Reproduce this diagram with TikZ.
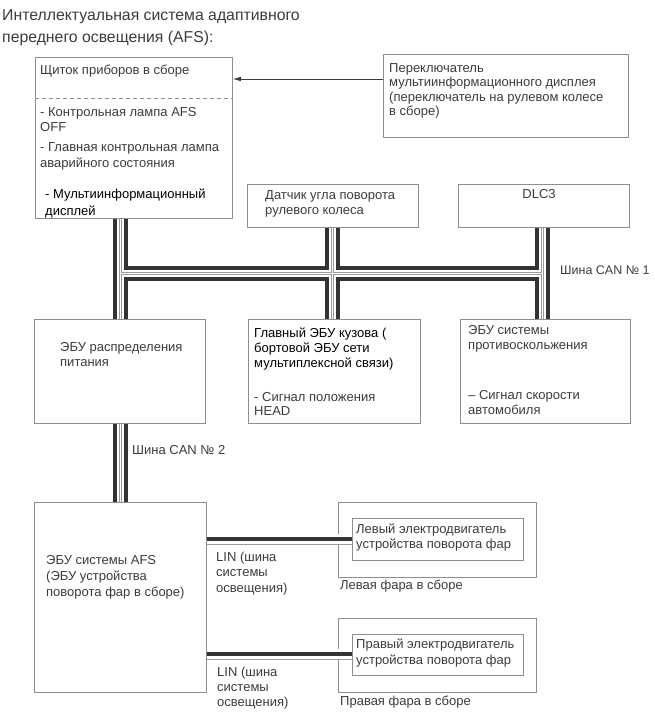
\documentclass[tikz,border=0pt]{standalone}
\usepackage{fontspec}
\setmainfont{Liberation Sans}
\usetikzlibrary{arrows.meta}

\definecolor{boxgray}{HTML}{8E8E8E}
\definecolor{txtgray}{HTML}{3C3C3C}
\definecolor{busdark}{HTML}{333333}
\definecolor{busgray}{HTML}{9A9A9A}

\tikzset{
  blk/.style 2 args={draw=boxgray, line width=0.8pt, anchor=north west, inner sep=0pt, minimum width=#1, minimum height=#2},
  txt/.style={anchor=north west, inner sep=0pt, align=left, text=txtgray, font=\fontsize{13}{15}\selectfont},
  cana/.style={draw=busdark, line width=15pt},
  canb/.style={draw=white, line width=7pt},
  canc/.style={draw=busgray, line width=3pt},
  cand/.style={draw=white, line width=1pt},
  lina/.style={draw=busgray, line width=11pt},
  linb/.style={draw=white, line width=9.4pt},
  linc/.style={draw=busdark, line width=4.5pt},
  arrowln/.style={draw=txtgray, line width=0.7pt, -{Latex[length=8pt,width=4.5pt]}}
}

\begin{document}
\begin{tikzpicture}[x=1pt,y=-1pt]
	\useasboundingbox (0,0) rectangle (655,712);
	\fill[white] (0,0) rectangle (655,712);

	% heading
	\node[txt, font=\fontsize{15.8}{22}\selectfont] (title) at (2,9) {Интеллектуальная система адаптивного\\переднего освещения (AFS):};

	% the units
	\node[blk={197}{161}] (cl) at (35,57) {};
	\node[blk={245}{83}] (sw) at (383,54) {};
	\node[blk={171}{43}] (sn) at (247,184) {};
	\node[blk={171}{43}] (dl) at (458,184) {};
	\node[blk={171}{104}] (pw) at (34,319) {};
	\node[blk={172}{104}] (bd) at (248,319) {};
	\node[blk={170}{104}] (sk) at (460,319) {};
	\node[blk={172}{190}] (afs) at (34,502) {};
	\node[blk={198}{75}] (lh) at (338,502) {};
	\node[blk={171}{42}] (lm) at (352,518) {};
	\node[blk={198}{74}] (rh) at (338,618) {};
	\node[blk={171}{41}] (rm) at (352,634) {};

	% dashed split in the cluster box
	\coordinate (dsh) at (0,98);
	\draw[boxgray, line width=0.7pt, dash pattern=on 4pt off 3pt] (cl.west |- dsh) -- (cl.east |- dsh);

	% switch -> cluster
	\coordinate (ay) at (0,79);
	\draw[arrowln] (sw.west |- ay) -- (cl.east |- ay);

	% CAN buses
	\coordinate (j1) at (120,273);
	\coordinate (j2) at (332,273);
	\coordinate (j3) at (542,273);
	\foreach \ly in {cana,canb,canc,cand}{
		\draw[\ly] (j1 |- cl.south) -- (j1 |- pw.north)
			(j2 |- sn.south) -- (j2 |- bd.north)
			(j3 |- dl.south) -- (j3 |- sk.north)
			(j1) -- (j3)
			(j1 |- pw.south) -- (j1 |- afs.north);
	}

	% LIN lines
	\coordinate (l1) at (0,539);
	\coordinate (l2) at (0,654);
	\foreach \ly in {lina,linb,linc}{
		\draw[\ly] (afs.east |- l1) -- (lm.west |- l1)
			(afs.east |- l2) -- (rm.west |- l2);
	}

	% texts
	\node[txt] (clhead) at (40,65) {Щиток приборов в сборе};
	\node[txt] (cl1) at (40,107) {- Контрольная лампа AFS\\OFF};
	\node[txt, font=\fontsize{13}{16}\selectfont] (cl2) at (40,142.5) {- Главная контрольная лампа\\аварийного состояния};
	\node[txt, text=black, font=\fontsize{13}{17}\selectfont] (cl3) at (45,188.5) {- Мультиинформационный\\дисплей};
	\node[txt, font=\fontsize{13}{14.3}\selectfont] (swtxt) at (389,63.5) {Переключатель\\мультиинформационного дисплея\\(переключатель на рулевом колесе\\в сборе)};
	\node[txt] (sntxt) at (265,190.5) {Датчик угла поворота\\рулевого колеса};
	\node[txt, anchor=center] (dltxt) at (539,194.5) {DLC3};
	\node[txt, font=\fontsize{12.5}{15}\selectfont] (can1) at (560,265.5) {Шина CAN № 1};
	\node[txt] (pwtxt) at (60,342.5) {ЭБУ распределения\\питания};
	\node[txt, text=black] (bdtxt) at (254,327.5) {Главный ЭБУ кузова (\\бортовой ЭБУ сети\\мультиплексной связи)};
	\node[txt, font=\fontsize{13}{14}\selectfont] (bdsig) at (254,392.5) {- Сигнал положения\\HEAD};
	\node[txt] (sktxt) at (468,325.5) {ЭБУ системы\\противоскольжения};
	\node[txt] (sksig) at (468,390.5) {– Сигнал скорости\\автомобиля};
	\node[txt] (can2) at (132,445.5) {Шина CAN № 2};
	\node[txt, font=\fontsize{13}{16}\selectfont] (afstxt) at (46,555.5) {ЭБУ системы AFS\\(ЭБУ устройства\\поворота фар в сборе)};
	\node[txt, font=\fontsize{13}{15.5}\selectfont] (lin1) at (216,551.5) {LIN (шина\\системы\\освещения)};
	\node[txt] (lin2) at (217,667) {LIN (шина\\системы\\освещения)};
	\node[txt] (lmtxt) at (356,523.5) {Левый электродвигатель\\устройства поворота фар};
	\node[txt, font=\fontsize{13}{16}\selectfont] (rmtxt) at (356,638.5) {Правый электродвигатель\\устройства поворота фар};
	\node[txt] (lhlab) at (340,579.5) {Левая фара в сборе};
	\node[txt] (rhlab) at (340,695.5) {Правая фара в сборе};
\end{tikzpicture}
\end{document}
